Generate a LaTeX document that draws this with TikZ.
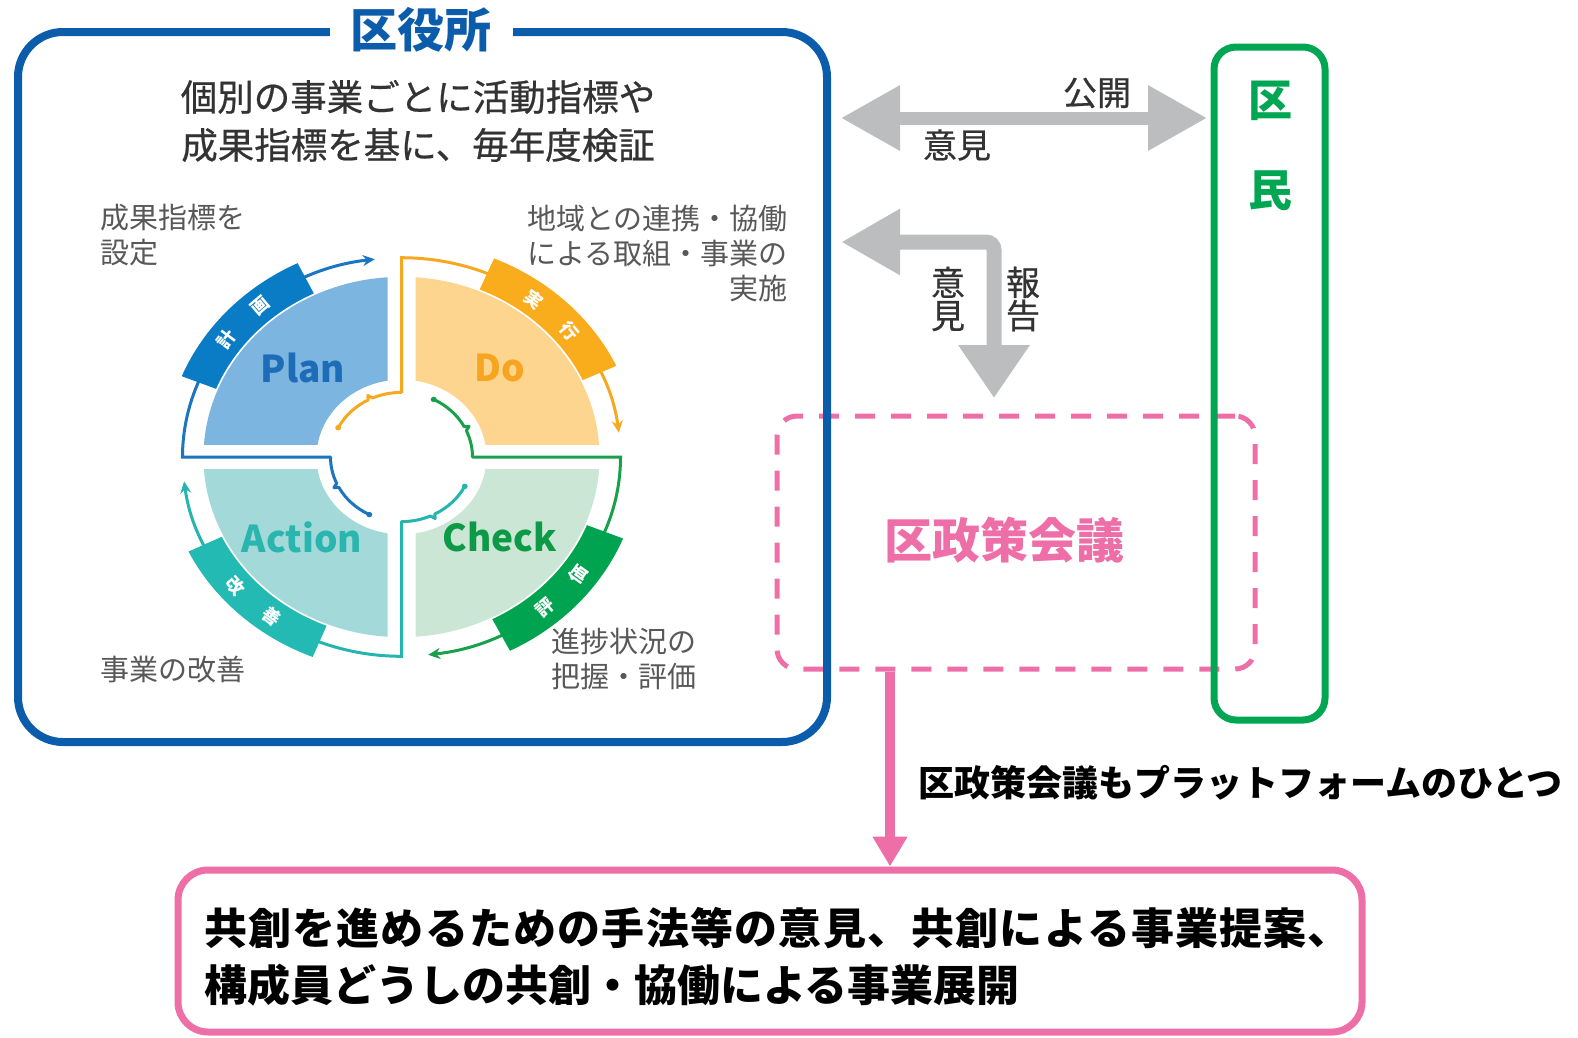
\documentclass[tikz,border=0pt]{standalone}
\usepackage{fontspec}
\setmainfont{Noto Sans CJK JP}
\newfontfamily\medfont[FakeBold=0.6]{Noto Sans CJK JP}
\usetikzlibrary{arrows.meta}
\definecolor{kuBlue}{HTML}{0B5CAB}
\definecolor{kuGreen}{HTML}{00A651}
\definecolor{kuPink}{HTML}{EE6EA8}
\definecolor{arrGray}{HTML}{BCBDBF}
\definecolor{txtGray}{HTML}{585858}
\definecolor{txtDark}{HTML}{333333}
\definecolor{planLine}{HTML}{1B75C0}
\definecolor{planFill}{HTML}{7DB5E1}
\definecolor{planBand}{HTML}{0A7CC6}
\definecolor{planTxt}{HTML}{1C6CB8}
\definecolor{doLine}{HTML}{F6A821}
\definecolor{doFill}{HTML}{FDD58F}
\definecolor{doBand}{HTML}{F9AD1D}
\definecolor{doTxt}{HTML}{F7A520}
\definecolor{chkLine}{HTML}{18A04B}
\definecolor{chkFill}{HTML}{CBE6D4}
\definecolor{chkBand}{HTML}{00A34F}
\definecolor{chkTxt}{HTML}{0D9A47}
\definecolor{actLine}{HTML}{24B5AF}
\definecolor{actFill}{HTML}{A3DAD9}
\definecolor{actBand}{HTML}{22BAB3}
\definecolor{actTxt}{HTML}{2AB5AE}
\tikzset{
  grayarrow/.style={arrGray, line width=13pt},
  graytxt/.style={text=txtGray, font=\fontsize{29}{35}\selectfont, inner sep=0pt},
  darktxt/.style={text=txtDark, font=\medfont\fontsize{34}{33}\selectfont, inner sep=0pt},
  bandlbl/.style={text=white, font=\bfseries\fontsize{18}{18}\selectfont, inner sep=0pt},
  pdcalbl/.style={font=\bfseries\fontsize{37}{37}\selectfont, inner sep=0pt},
  thinline/.style={line width=3pt, line cap=round, line join=round},
}
\begin{document}
\begin{tikzpicture}[x=1pt,y=-1pt]
\useasboundingbox (0,0) rectangle (1578,1037);

% ---------- PDCA cycle ----------
\begin{scope}[shift={(401.5,457)}, yscale=-0.91]
  % quadrant fills
  \begin{scope}\clip (-14,14) rectangle (-260,260);
    \fill[planFill, even odd rule] (0,0) circle (198) (0,0) circle (85);\end{scope}
  \begin{scope}\clip (14,14) rectangle (260,260);
    \fill[doFill, even odd rule] (0,0) circle (198) (0,0) circle (85);\end{scope}
  \begin{scope}\clip (-14,-14) rectangle (-260,-260);
    \fill[actFill, even odd rule] (0,0) circle (198) (0,0) circle (85);\end{scope}
  \begin{scope}\clip (14,-14) rectangle (260,-260);
    \fill[chkFill, even odd rule] (0,0) circle (198) (0,0) circle (85);\end{scope}
  % thin outline lines
  \foreach \a/\c in {180/planLine, 90/doLine, 0/chkLine, 270/actLine}{
    \draw[\c, thinline] (\a:71) arc (\a:\a+24:71) -- (\a+26.5:75.5) -- (\a+28:71) arc (\a+28:\a+63:71);
    \fill[\c] (\a+63:71) circle (3pt);
    \draw[\c, line width=3pt, -{Stealth[length=12pt,width=11pt]}] (\a:71) -- (\a:219) arc (\a:\a-83:219);
  }
  % bands
  \fill[planBand] (116:200) arc (116:158:200) -- (158:237) arc (158:116:237) -- cycle;
  \fill[doBand] (25:200) arc (25:67:200) -- (67:237) arc (67:25:237) -- cycle;
  \fill[chkBand] (-63:200) arc (-63:-22:200) -- (-22:239) arc (-22:-63:239) -- cycle;
  \fill[actBand] (206:200) arc (206:248:200) -- (248:237) arc (248:206:237) -- cycle;
  \node[bandlbl, rotate=53.5] (b1) at (143.5:218) {計};
  \node[bandlbl, rotate=40.5] (b2) at (130.5:218) {画};
  \node[bandlbl, rotate=-37.5] (b3) at (52.5:218) {実};
  \node[bandlbl, rotate=-50.5] (b4) at (39.5:218) {行};
  \node[bandlbl, rotate=41] (b5) at (-49:219) {評};
  \node[bandlbl, rotate=54] (b6) at (-36:219) {価};
  \node[bandlbl, rotate=-49.5] (b7) at (220.5:218) {改};
  \node[bandlbl, rotate=-36.5] (b8) at (233.5:218) {善};
\end{scope}
\node[pdcalbl, text=planTxt] (plan) at (303,368) {Plan};
\node[pdcalbl, text=doTxt] (do) at (500,368) {Do};
\node[pdcalbl, text=actTxt] (act) at (302,537) {Action};
\node[pdcalbl, text=chkTxt] (chk) at (500,537) {Check};

\node[graytxt, anchor=west, align=left] (l1) at (100,235) {成果指標を\\設定};
\node[graytxt, anchor=east, align=right] (l2) at (788,253) {地域との連携・協働\\による取組・事業の\\実施};
\node[graytxt, anchor=west, align=left] (l3) at (551,659) {進捗状況の\\把握・評価};
\node[graytxt, anchor=west] (l4) at (100,669) {事業の改善};

% ---------- boxes ----------
\node[draw=kuPink, line width=5pt, dash pattern=on 20pt off 16pt, rounded corners=20pt,
      minimum width=478pt, minimum height=253pt] (council) at (1016,542.5) {};
\node[text=kuPink, font=\bfseries\fontsize{48}{48}\selectfont, inner sep=0pt] (councilTxt) at (1004,540) {区政策会議};

\node[draw=kuBlue, line width=8pt, rounded corners=45pt,
      minimum width=809pt, minimum height=710pt] (office) at (422.5,387) {};
\node[fill=white, text=kuBlue, font=\bfseries\fontsize{47}{47}\selectfont, inner xsep=21pt, inner ysep=2pt] (officeTitle) at (421,30) {区役所};
\node[darktxt, align=center, font=\medfont\fontsize{36.5}{48}\selectfont] (officeTxt) at (418,121) {個別の事業ごとに活動指標や\\成果指標を基に、毎年度検証};

\node[draw=kuGreen, line width=7pt, rounded corners=22pt,
      minimum width=111pt, minimum height=673pt] (kumin) at (1269.5,383.5) {};
\node[text=kuGreen, font=\bfseries\fontsize{44}{44}\selectfont, inner sep=0pt] (ku) at (1270,101) {区};
\node[text=kuGreen, font=\bfseries\fontsize{44}{44}\selectfont, inner sep=0pt] (min) at (1270,191) {民};

% ---------- gray arrows ----------
\coordinate (dL) at (841,118);
\coordinate (dR) at (1207,118);
\draw[grayarrow, {Triangle[length=59pt,width=62pt]}-{Triangle[length=59pt,width=62pt]}] (dL) -- (dR);
\node[darktxt] (koukai) at (1097,93) {公開};
\node[darktxt] (iken1) at (957,145) {意見};

\coordinate (lL) at (841,242);
\coordinate (lC) at (994,242);
\coordinate (lD) at (994,398);
\draw[grayarrow, line width=15pt, rounded corners=8pt, {Triangle[length=59pt,width=62pt]}-{Triangle[length=53pt,width=68pt]}] (lL) -- (lC) -- (lD);
\node[darktxt, align=center] (iken2) at (948,299) {意\\見};
\node[darktxt, align=center] (houkoku) at (1023,299) {報\\告};

% ---------- result ----------
\node[draw=kuPink, line width=7pt, rounded corners=30pt,
      minimum width=1184pt, minimum height=162pt] (result) at (770,951) {};
\node[anchor=west, align=left, font=\bfseries\fontsize{43}{57}\selectfont, inner sep=0pt] (resultTxt) at (204,957)
  {{\addfontfeature{LetterSpace=2.8}共創を進めるための手法等の意見、共創による事業提案、}\\構成員どうしの共創・協働による事業展開};
\coordinate (pa) at (890,0);
\draw[kuPink, line width=10pt, -{Triangle[length=30pt,width=33pt]}] (council.south -| pa) -- (result.north -| pa);
\node[anchor=west, font=\bfseries\fontsize{36}{36}\selectfont, inner sep=0pt] (platform) at (918,783) {区政策会議もプラットフォームのひとつ};
\end{tikzpicture}
\end{document}
